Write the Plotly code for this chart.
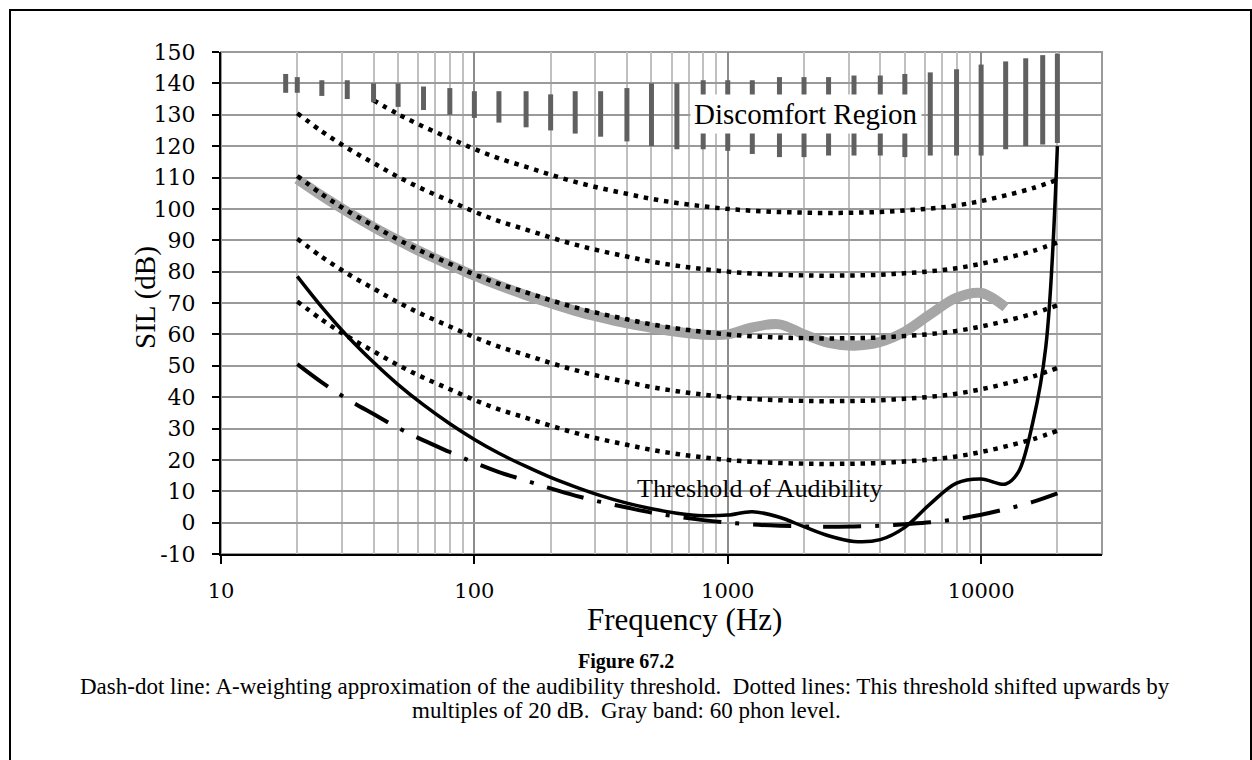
import plotly.graph_objects as go

# ---------------- data ----------------
freq_third = [20, 25, 31.5, 40, 50, 63, 80, 100, 125, 160, 200, 250, 315, 400, 500,
              630, 800, 1000, 1250, 1600, 2000, 2500, 3150, 4000, 5000, 6300, 8000,
              10000, 12500]

threshold_freq = freq_third + [14000, 16000, 18000, 20000]
threshold_db = [78.5, 68.7, 59.5, 51.1, 44.0, 37.5, 31.5, 26.5, 22.1, 17.9, 14.4, 11.4,
                8.6, 6.2, 4.4, 3.0, 2.2, 2.4, 3.5, 1.7, -1.3, -4.2, -6.0, -5.4, -1.5,
                6.0, 12.6, 13.9, 12.3, 16.0, 32.0, 56.0, 120.0]

phon60_db = [109.5, 104.2, 99.1, 94.2, 90.0, 85.9, 82.1, 78.7, 75.6, 72.5, 69.9, 67.5,
             65.4, 63.5, 62.1, 60.8, 59.9, 60.0, 62.2, 63.2, 60.0, 57.3, 56.4, 57.6,
             60.9, 66.4, 71.7, 73.2, 68.6]

aw_freq = freq_third + [16000, 20000]
aweight_db = [50.5, 44.7, 39.4, 34.6, 30.2, 26.2, 22.5, 19.1, 16.1, 13.4, 10.9, 8.6,
              6.6, 4.8, 3.2, 1.9, 0.8, 0.0, -0.6, -1.0, -1.2, -1.3, -1.2, -1.0, -0.5,
              0.1, 1.1, 2.5, 4.3, 6.6, 9.3]
dotted_20 = [70.5, 64.7, 59.4, 54.6, 50.2, 46.2, 42.5, 39.1, 36.1, 33.4, 30.9, 28.6,
             26.6, 24.8, 23.2, 21.9, 20.8, 20.0, 19.4, 19.0, 18.8, 18.7, 18.8, 19.0,
             19.5, 20.1, 21.1, 22.5, 24.3, 26.6, 29.3]
dotted_40 = [90.5, 84.7, 79.4, 74.6, 70.2, 66.2, 62.5, 59.1, 56.1, 53.4, 50.9, 48.6,
             46.6, 44.8, 43.2, 41.9, 40.8, 40.0, 39.4, 39.0, 38.8, 38.7, 38.8, 39.0,
             39.5, 40.1, 41.1, 42.5, 44.3, 46.6, 49.3]
dotted_60 = [110.5, 104.7, 99.4, 94.6, 90.2, 86.2, 82.5, 79.1, 76.1, 73.4, 70.9, 68.6,
             66.6, 64.8, 63.2, 61.9, 60.8, 60.0, 59.4, 59.0, 58.8, 58.7, 58.8, 59.0,
             59.5, 60.1, 61.1, 62.5, 64.3, 66.6, 69.3]
dotted_80 = [130.5, 124.7, 119.4, 114.6, 110.2, 106.2, 102.5, 99.1, 96.1, 93.4, 90.9,
             88.6, 86.6, 84.8, 83.2, 81.9, 80.8, 80.0, 79.4, 79.0, 78.8, 78.7, 78.8,
             79.0, 79.5, 80.1, 81.1, 82.5, 84.3, 86.6, 89.3]
dotted_100_freq = aw_freq[3:]
dotted_100 = [134.6, 130.2, 126.2, 122.5, 119.1, 116.1, 113.4, 110.9, 108.6, 106.6,
              104.8, 103.2, 101.9, 100.8, 100.0, 99.4, 99.0, 98.8, 98.7, 98.8, 99.0,
              99.5, 100.1, 101.1, 102.5, 104.3, 106.6, 109.3]

bar_freq = [18, 20, 25, 31.5, 40, 50, 63, 80, 100, 125, 160, 200, 250, 315, 400, 500,
            630, 800, 1000, 1250, 1600, 2000, 2500, 3150, 4000, 5000, 6300, 8000,
            10000, 12500, 15000, 17500, 20000]
bar_low = [137, 137, 136, 135, 134, 132.5, 131.5, 130, 129, 127.5, 126, 125, 124, 123,
           121.5, 120, 119, 119, 118.5, 117.5, 116.5, 116.5, 117, 117, 117, 116.5,
           117, 117, 117, 119, 120, 120.5, 121]
bar_high = [143, 142, 141, 141, 140, 140, 139, 138.5, 137.5, 137.5, 137.5, 136.5, 137.5,
            137.5, 138.5, 140, 140, 141, 141, 141, 142, 142, 142, 142.5, 142.5, 143,
            143.5, 144.5, 146, 147, 148, 149, 149.5]

x_tickvals = [10, 100, 1000, 10000]
x_ticktext = ["10", "100", "1000", "10000"]
y_tickvals = list(range(-10, 151, 10))
y_ticktext = [str(v) for v in y_tickvals]

# ---------------- layout helpers ----------------
W, H = 1252, 760
L, T, PW, PH = 221, 52, 881, 502


def px(xp):
    return (xp - L) / PW


def py(yp):
    return (T + PH - yp) / PH


SERIF = "Liberation Serif"
fig = go.Figure()

# 60 phon gray band
fig.add_trace(go.Scatter(x=freq_third, y=phon60_db, mode="lines",
                         line=dict(color="#a6a6a6", width=10, shape="spline"),
                         hoverinfo="skip", showlegend=False))

# dotted shifted thresholds
for fx, fy in [(aw_freq, dotted_20), (aw_freq, dotted_40), (aw_freq, dotted_60),
               (aw_freq, dotted_80), (dotted_100_freq, dotted_100)]:
    fig.add_trace(go.Scatter(x=fx, y=fy, mode="lines",
                             line=dict(color="black", width=4.5, dash="4.5px,5.8px",
                                       shape="spline"),
                             hoverinfo="skip", showlegend=False))

# dash-dot A-weighting
fig.add_trace(go.Scatter(x=aw_freq, y=aweight_db, mode="lines",
                         line=dict(color="black", width=4,
                                   dash="38px,14px,4px,14px", shape="spline"),
                         hoverinfo="skip", showlegend=False))

# threshold of audibility
fig.add_trace(go.Scatter(x=threshold_freq, y=threshold_db, mode="lines",
                         line=dict(color="black", width=3.5, shape="spline"),
                         hoverinfo="skip", showlegend=False))

# discomfort region bars
bx, by = [], []
for f, lo, hi in zip(bar_freq, bar_low, bar_high):
    bx += [f, f, None]
    by += [lo, hi, None]
fig.add_trace(go.Scatter(x=bx, y=by, mode="lines",
                         line=dict(color="#606060", width=5),
                         hoverinfo="skip", showlegend=False))

fig.update_layout(
    width=W, height=H, autosize=False,
    margin=dict(l=L, r=W - L - PW, t=T, b=H - T - PH, pad=0),
    paper_bgcolor="white", plot_bgcolor="white",
    showlegend=False,
    xaxis=dict(type="log", range=[1, 4.4771], tickmode="array",
               tickvals=x_tickvals, ticktext=x_ticktext,
               showline=True, linecolor="black", linewidth=2,
               ticks="outside", ticklen=8, tickwidth=2, tickcolor="black",
               showgrid=True, gridcolor="#8c8c8c", gridwidth=2,
               minor=dict(dtick="D1", showgrid=True, gridcolor="#c0c0c0",
                          gridwidth=2, ticks=""),
               tickfont=dict(family="DejaVu Serif", size=21, color="black"),
               ticklabelstandoff=9, zeroline=False),
    yaxis=dict(range=[-10, 150], tickmode="array", tickvals=y_tickvals,
               ticktext=y_ticktext,
               showline=True, linecolor="black", linewidth=2,
               ticks="outside", ticklen=7, tickwidth=2, tickcolor="black",
               showgrid=True, gridcolor="#9a9a9a", gridwidth=2,
               tickfont=dict(family="DejaVu Serif", size=22, color="black"),
               ticklabelstandoff=12, zeroline=False),
)

# plot area gray border (top / right) and outer frame
fig.add_shape(type="rect", xref="paper", yref="paper", x0=0, x1=1, y0=0, y1=1,
              line=dict(color="#9a9a9a", width=2), layer="below")
fig.add_shape(type="rect", xref="paper", yref="paper",
              x0=px(10), x1=px(1251), y0=py(775), y1=py(10),
              line=dict(color="black", width=2), layer="above")

C = dict(xanchor="center", yanchor="middle", showarrow=False)
annots = [
    dict(text="Discomfort Region", x=3.3075, y=130.3, xref="x", yref="y",
         font=dict(family=SERIF, size=29, color="black"), bgcolor="white",
         borderpad=3),
    dict(text="Threshold of Audibility", x=3.129, y=10.8, xref="x", yref="y",
         font=dict(family=SERIF, size=26, color="black")),
    dict(text="Frequency (Hz)", x=px(684), y=py(620), xref="paper", yref="paper",
         font=dict(family=SERIF, size=31, color="black"), borderpad=0),
    dict(text="SIL (dB)", x=px(145), y=py(298), xref="paper", yref="paper",
         textangle=-90, font=dict(family=SERIF, size=29, color="black")),
    dict(text="<b>Figure 67.2</b>", x=px(626), y=py(661), xref="paper", yref="paper",
         font=dict(family=SERIF, size=20, color="black")),
    dict(text="Dash-dot line: A-weighting approximation of the audibility threshold.&nbsp; "
              "Dotted lines: This threshold shifted upwards by",
         x=px(625), y=py(686), xref="paper", yref="paper",
         font=dict(family=SERIF, size=23, color="black")),
    dict(text="multiples of 20 dB.&nbsp; Gray band: 60 phon level.",
         x=px(626), y=py(710), xref="paper", yref="paper",
         font=dict(family=SERIF, size=23, color="black")),
]
for a in annots:
    fig.add_annotation(**C, **a)

fig.write_html("out.html")
